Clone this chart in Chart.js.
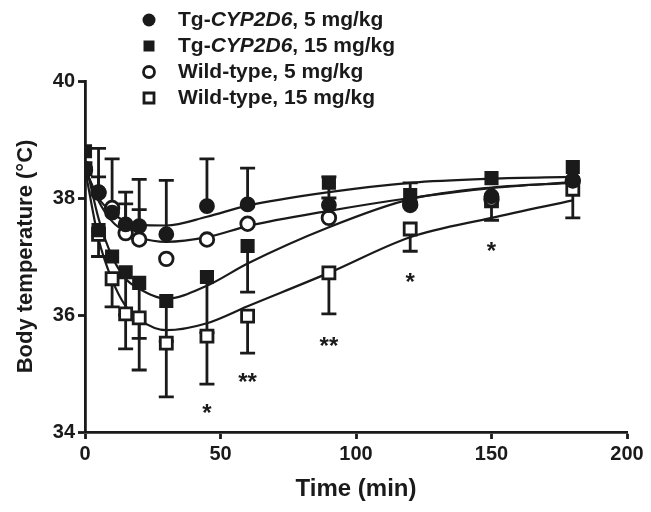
<!DOCTYPE html>
<html>
<head>
<meta charset="utf-8">
<script src="https://cdn.jsdelivr.net/npm/chart.js@4.4.1/dist/chart.umd.min.js"></script>
<style>
  html, body { margin: 0; padding: 0; background: #fff; }
  #wrap { width: 651px; height: 512px; }
</style>
</head>
<body>
<div id="wrap"><canvas id="tempChart" width="651" height="512"></canvas></div>
<script>
// sampling times (min)
const times = [0, 5, 10, 15, 20, 30, 45, 60, 90, 120, 150, 180];

// mean body temperature per group
const tg5  = [38.5, 38.1, 37.75, 37.55, 37.52, 37.38, 37.86, 37.89, 37.88, 37.9, 38.03, 38.3];
const tg15 = [38.8, 37.45, 37.0, 36.73, 36.55, 36.24, 36.65, 37.18, 38.26, 38.05, 38.34, 38.53];
const wt5  = [38.48, 38.09, 37.83, 37.4, 37.29, 36.96, 37.29, 37.56, 37.66, 37.88, 37.98, 38.3];
const wt15 = [38.5, 37.38, 36.62, 36.02, 35.95, 35.52, 35.64, 35.98, 36.72, 37.47, 37.95, 38.15];

// error bar ends (only the visible side), null = not shown
const tg5Hi  = [null, 38.85, 38.67, 38.1, 38.32, 38.3, 38.67, 38.51, null, null, null, null];
const tg15Hi = [null, null, null, null, null, null, null, null, 38.36, 38.26, null, null];
const tg15Lo = [null, null, null, 36.0, 35.6, 35.55, 35.7, 36.39, 38.0, null, null, null];
const wt5Hi  = [null, 38.36, null, 37.9, 37.8, null, null, null, null, null, null, null];
const wt15Lo = [null, 37.0, 36.14, 35.42, 35.06, 34.6, 34.82, 35.35, 36.02, 37.09, 37.62, 37.66];

// fitted curves at the same times
const fitTg5  = [38.5, 38.0, 37.75, 37.6, 37.54, 37.53, 37.68, 37.87, 38.1, 38.26, 38.33, 38.36];
const fitTg15 = [38.65, 37.65, 37.0, 36.62, 36.45, 36.28, 36.5, 36.88, 37.5, 37.98, 38.18, 38.26];
const fitWt5  = [38.5, 37.95, 37.6, 37.42, 37.32, 37.25, 37.33, 37.52, 37.78, 38.0, 38.17, 38.27];
const fitWt15 = [38.5, 37.3, 36.6, 36.15, 35.92, 35.74, 35.86, 36.15, 36.72, 37.33, 37.66, 37.96];

// significance marks
const starTimes  = [45, 60, 90, 120, 150];
const starValues = [34.38, 34.92, 35.54, 36.63, 37.16];
const starLabels = ['*', '**', '**', '*', '*'];

const xTicks = [0, 50, 100, 150, 200];
const yTicks = [34, 36, 38, 40];

const legendItems = [
  {pre: 'Tg-', it: 'CYP2D6', post: ', 5 mg/kg', style: 'circle', fill: '#1a1a1a'},
  {pre: 'Tg-', it: 'CYP2D6', post: ', 15 mg/kg', style: 'rect', fill: '#1a1a1a'},
  {pre: 'Wild-type, 5 mg/kg', it: '', post: '', style: 'circle', fill: '#fff'},
  {pre: 'Wild-type, 15 mg/kg', it: '', post: '', style: 'rect', fill: '#fff'}
];

const INK = '#1a1a1a';
const FONT = 'Liberation Sans, Arial, Helvetica, sans-serif';

const pts = arr => times.map((t, i) => ({x: t, y: arr[i]}));

function fitLine(arr) {
  return {
    data: pts(arr), showLine: true, pointRadius: 0, borderColor: INK,
    borderWidth: 2.2, cubicInterpolationMode: 'monotone', order: 5
  };
}
function markers(arr, style, fill, r) {
  return {
    data: pts(arr), showLine: false, pointStyle: style, pointRadius: r,
    pointBackgroundColor: fill, pointBorderColor: INK, pointBorderWidth: 2.8, order: 1
  };
}

const errorBars = {
  id: 'errorBars',
  beforeDatasetsDraw(chart) {
    const {ctx, scales: {x, y}} = chart;
    const groups = [[tg5, tg5Hi], [tg15, tg15Hi], [tg15, tg15Lo], [wt5, wt5Hi], [wt15, wt15Lo]];
    ctx.save();
    ctx.strokeStyle = INK;
    ctx.lineWidth = 2.8;
    groups.forEach(([mean, end]) => {
      end.forEach((v, i) => {
        if (v === null) return;
        const px = x.getPixelForValue(times[i]);
        const y0 = y.getPixelForValue(mean[i]);
        const y1 = y.getPixelForValue(v);
        ctx.beginPath();
        ctx.moveTo(px, y0); ctx.lineTo(px, y1);
        ctx.moveTo(px - 7.5, y1); ctx.lineTo(px + 7.5, y1);
        ctx.stroke();
      });
    });
    ctx.restore();
  }
};

const stars = {
  id: 'stars',
  afterDatasetsDraw(chart) {
    const {ctx, scales: {x, y}} = chart;
    ctx.save();
    ctx.fillStyle = INK;
    ctx.font = 'bold 24px ' + FONT;
    ctx.textAlign = 'center';
    ctx.textBaseline = 'middle';
    starTimes.forEach((t, i) => {
      ctx.fillText(starLabels[i], x.getPixelForValue(t), y.getPixelForValue(starValues[i]) + 5);
    });
    ctx.restore();
  }
};

const legendBox = {
  id: 'legendBox',
  afterDraw(chart) {
    const {ctx} = chart;
    ctx.save();
    ctx.textBaseline = 'middle';
    ctx.fillStyle = INK;
    ctx.strokeStyle = INK;
    ctx.lineWidth = 2.8;
    legendItems.forEach((it, i) => {
      const cy = 20 + i * 26;
      const mx = 149;
      ctx.beginPath();
      if (it.style === 'circle') {
        ctx.arc(mx, cy, it.fill === '#fff' ? 5.5 : 6.5, 0, Math.PI * 2);
      } else {
        const s = it.fill === '#fff' ? 5 : 5.5;
        ctx.rect(mx - s, cy - s, 2 * s, 2 * s);
      }
      ctx.fillStyle = it.fill;
      ctx.fill();
      if (it.fill === '#fff') ctx.stroke();
      ctx.fillStyle = INK;
      let tx = 178;
      ctx.font = 'bold 21px ' + FONT;
      ctx.fillText(it.pre, tx, cy);
      tx += ctx.measureText(it.pre).width;
      if (it.it) {
        ctx.font = 'italic bold 21px ' + FONT;
        ctx.fillText(it.it, tx, cy);
        tx += ctx.measureText(it.it).width;
        ctx.font = 'bold 21px ' + FONT;
        ctx.fillText(it.post, tx, cy);
      }
    });
    ctx.restore();
  }
};

new Chart(document.getElementById('tempChart'), {
  type: 'scatter',
  data: {
    datasets: [
      fitLine(fitTg5), fitLine(fitTg15), fitLine(fitWt5), fitLine(fitWt15),
      markers(tg5, 'circle', INK, 6.5),
      markers(tg15, 'rect', INK, 8),
      markers(wt5, 'circle', '#fff', 6.8),
      markers(wt15, 'rect', '#fff', 8.5)
    ]
  },
  options: {
    responsive: false,
    animation: false,
    devicePixelRatio: 1,
    layout: {padding: {top: 81, right: 24, left: 0, bottom: 0}},
    plugins: {legend: {display: false}, tooltip: {enabled: false}},
    scales: {
      x: {
        type: 'linear', min: 0, max: 200,
        afterBuildTicks: s => { s.ticks = xTicks.map(v => ({value: v})); },
        afterFit: s => { s.height = 80; },
        border: {display: true, color: INK, width: 2.8},
        grid: {display: true, drawOnChartArea: false, drawTicks: true, tickLength: 7, tickWidth: 2.8, tickColor: INK},
        ticks: {color: INK, padding: 3, maxRotation: 0, font: {family: FONT, size: 20, weight: 'bold'}},
        title: {display: true, text: 'Time (min)', color: INK, padding: {top: 0, bottom: 8},
                font: {family: FONT, size: 24, weight: 'bold'}}
      },
      y: {
        type: 'linear', min: 34, max: 40,
        afterBuildTicks: s => { s.ticks = yTicks.map(v => ({value: v})); },
        afterFit: s => { s.width = 85; },
        border: {display: true, color: INK, width: 2.8},
        grid: {display: true, drawOnChartArea: false, drawTicks: true, tickLength: 7, tickWidth: 2.8, tickColor: INK},
        ticks: {color: INK, padding: 3, font: {family: FONT, size: 20, weight: 'bold'}},
        title: {display: true, text: 'Body temperature (°C)', color: INK, padding: {top: 13, bottom: 0},
                font: {family: FONT, size: 22, weight: 'bold'}}
      }
    }
  },
  plugins: [errorBars, stars, legendBox]
});
</script>
</body>
</html>
